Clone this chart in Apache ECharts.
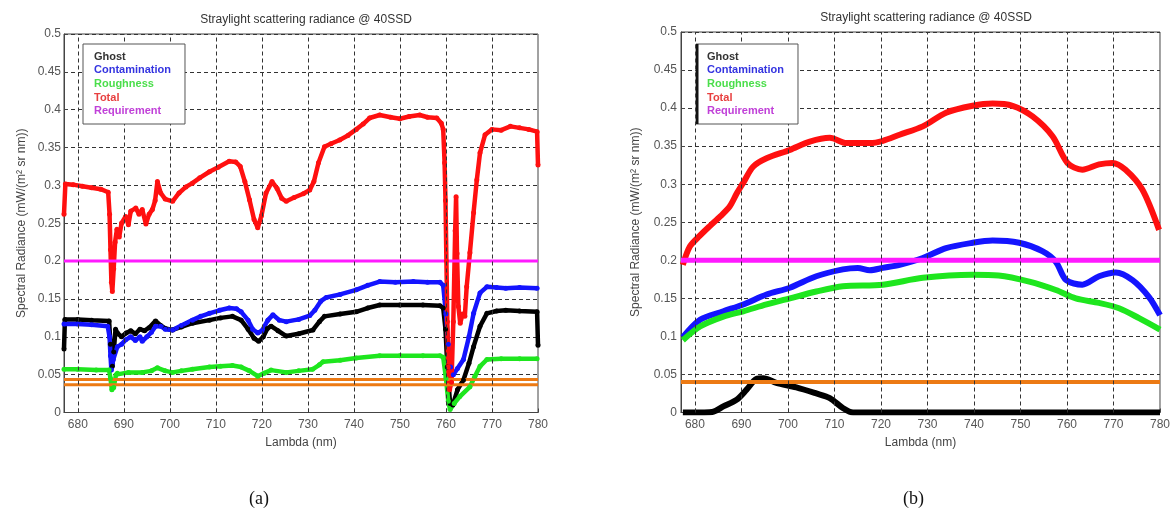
<!DOCTYPE html>
<html>
<head>
<meta charset="utf-8">
<script src="https://cdn.jsdelivr.net/npm/echarts@6/dist/echarts.min.js"></script>
<style>
  html, body { margin: 0; padding: 0; background: #fff; }
  #chart { width: 1173px; height: 518px; }
</style>
</head>
<body>
<div id="chart"></div>
<script>
  // wavelength ticks (nm) and series: [lambda, radiance]
  const lambdaTicks = [680, 690, 700, 710, 720, 730, 740, 750, 760, 770, 780];
  const legendNames = ['Ghost', 'Contamination', 'Roughness', 'Total', 'Requirement'];
  const requirement = 0.2;
  const limit = 0.04;

  // (a)
  const ghostA = [[677,0.084],[677.2,0.123],[680,0.123],[683,0.122],[686.8,0.121],[687.1,0.09],[687.5,0.061],[687.8,0.08],[688.2,0.11],[688.6,0.105],[689.5,0.1],[690.5,0.105],[691.5,0.108],[692.5,0.104],[693.5,0.11],[694.5,0.108],[695.5,0.112],[696.9,0.121],[698,0.115],[699,0.111],[700.6,0.109],[702.5,0.113],[704.9,0.118],[708.6,0.122],[711,0.125],[713.6,0.127],[715.5,0.122],[717,0.11],[718.3,0.098],[719.3,0.094],[720.3,0.1],[721.2,0.111],[722,0.114],[723.5,0.108],[725.3,0.101],[728,0.104],[731.1,0.109],[732.5,0.12],[733.6,0.127],[737,0.13],[740.5,0.133],[743,0.138],[745.6,0.142],[750,0.142],[755,0.142],[758.7,0.141],[759.4,0.138],[759.9,0.11],[760.3,0.06],[760.9,0.012],[761.5,0.01],[762.5,0.03],[763.8,0.043],[765,0.065],[766,0.087],[767.4,0.114],[768.9,0.131],[771,0.134],[773,0.135],[776,0.134],[779.8,0.133],[780,0.089]];
  const contamA = [[677,0.117],[680,0.117],[683,0.116],[686.5,0.114],[686.9,0.1],[687.1,0.075],[687.3,0.056],[687.7,0.07],[688.6,0.087],[689.5,0.09],[690.4,0.096],[691.5,0.1],[692.5,0.095],[693.5,0.1],[694,0.094],[695,0.1],[696,0.106],[696.9,0.114],[698,0.114],[699,0.11],[700.6,0.109],[702.5,0.115],[704.9,0.122],[706.7,0.127],[708.6,0.131],[710.8,0.135],[712.9,0.138],[714.5,0.137],[715.5,0.133],[717,0.122],[718,0.11],[719.1,0.105],[720,0.108],[721.3,0.122],[722.4,0.129],[723.8,0.122],[725.3,0.12],[728,0.123],[730.4,0.128],[731.5,0.135],[732.8,0.147],[734,0.152],[737,0.156],[740.5,0.162],[743,0.168],[745.6,0.173],[749,0.172],[752.9,0.173],[756,0.172],[758.7,0.172],[759.4,0.168],[760,0.13],[760.5,0.09],[761,0.06],[761.6,0.05],[762.5,0.058],[763.8,0.07],[765,0.1],[766,0.131],[767.4,0.158],[768.9,0.166],[771,0.165],[773,0.164],[776,0.165],[779.8,0.164]];
  const roughA = [[677,0.057],[680,0.057],[684,0.056],[686.8,0.056],[687.1,0.045],[687.4,0.03],[687.8,0.033],[688.3,0.05],[688.6,0.052],[691,0.053],[694,0.053],[696,0.055],[697.3,0.059],[699,0.055],[700.6,0.053],[702.5,0.055],[704.9,0.057],[708.6,0.06],[711,0.061],[713.6,0.062],[715.5,0.06],[717.3,0.055],[719.1,0.048],[720.5,0.052],[722,0.056],[725.3,0.053],[728,0.055],[731,0.057],[732.5,0.063],[733.3,0.067],[737,0.069],[740.5,0.072],[745.6,0.075],[750,0.075],[755,0.075],[758.7,0.075],[759.4,0.073],[760,0.045],[760.5,0.015],[760.9,0.004],[761.8,0.012],[763,0.021],[765.2,0.034],[766.3,0.048],[767.4,0.061],[768.9,0.07],[772,0.071],[776,0.071],[779.8,0.071]];
  const totalA = [[677,0.262],[677.3,0.302],[679,0.301],[681,0.299],[683,0.297],[685,0.295],[686.6,0.291],[686.9,0.262],[687.1,0.215],[687.3,0.172],[687.5,0.16],[687.8,0.19],[688.1,0.225],[688.5,0.242],[689,0.232],[689.5,0.25],[690.4,0.259],[691,0.248],[691.5,0.266],[692.6,0.27],[693.3,0.262],[694,0.268],[694.8,0.249],[695.5,0.262],[696.2,0.268],[696.8,0.28],[697.3,0.305],[698,0.29],[699,0.282],[700.6,0.279],[702,0.29],[703.5,0.298],[704.9,0.303],[706.5,0.31],[708.6,0.318],[710.5,0.324],[712.9,0.332],[714.3,0.331],[715.3,0.325],[716.3,0.305],[717.3,0.281],[718.3,0.255],[719.1,0.244],[719.9,0.26],[720.9,0.29],[722.2,0.305],[723.3,0.296],[724.3,0.283],[725.3,0.279],[727,0.284],[729,0.289],[730.4,0.294],[731.3,0.305],[732.3,0.33],[733.6,0.351],[735,0.355],[736.9,0.36],[738.7,0.366],[740.5,0.374],[742,0.381],[743.4,0.389],[745.6,0.393],[748,0.39],[750,0.388],[752,0.391],[754.3,0.393],[756,0.39],[758,0.389],[759,0.382],[759.4,0.374],[759.7,0.33],[759.9,0.28],[760.1,0.2],[760.3,0.12],[760.5,0.06],[760.8,0.03],[761.2,0.04],[761.6,0.12],[762,0.24],[762.2,0.285],[762.4,0.21],[762.7,0.14],[763.1,0.118],[763.6,0.13],[764.1,0.127],[764.5,0.166],[765.2,0.211],[766,0.264],[766.7,0.307],[767.4,0.343],[768.5,0.367],[770,0.374],[772,0.373],[774,0.378],[776,0.376],[778,0.374],[779.8,0.371],[780,0.327]];

  // (b)
  const ghostB = [[677.4,0],[682,0],[684,0.001],[686.1,0.008],[689,0.017],[691.1,0.03],[693.2,0.044],[694.7,0.045],[697.5,0.039],[701.8,0.033],[706.1,0.025],[709,0.019],[711.8,0.006],[714,0],[720,0],[740,0],[760,0],[780,0]];
  const contamB = [[677.4,0.099],[681.1,0.122],[686.1,0.133],[690.4,0.142],[695.4,0.155],[700.4,0.164],[706.1,0.179],[711.8,0.188],[715,0.19],[717.6,0.187],[720.4,0.19],[724,0.194],[729,0.203],[734,0.216],[739.7,0.223],[744,0.226],[749.7,0.223],[754.7,0.212],[757.6,0.198],[759.8,0.174],[763.3,0.168],[766.9,0.179],[770.5,0.184],[774.1,0.174],[777.6,0.152],[780,0.128]];
  const roughB = [[677.4,0.095],[681.1,0.113],[686.1,0.126],[690.4,0.133],[695.4,0.142],[700.4,0.15],[706.1,0.159],[711.8,0.166],[720.4,0.168],[729,0.177],[739.7,0.181],[745.3,0.18],[751.9,0.172],[757.6,0.161],[761.9,0.15],[766.9,0.144],[771.2,0.137],[775.5,0.124],[780,0.109]];
  const totalB = [[677.4,0.194],[678.9,0.218],[681,0.232],[683.2,0.245],[685.5,0.258],[687.5,0.271],[689,0.288],[690.4,0.302],[692.5,0.323],[695.4,0.334],[700.4,0.345],[704.7,0.356],[709,0.361],[712.6,0.354],[717.6,0.354],[720.4,0.357],[724,0.365],[729,0.376],[734,0.394],[739.7,0.403],[744,0.406],[748.3,0.403],[752.6,0.389],[756.9,0.363],[760.1,0.328],[763.3,0.319],[766.9,0.326],[769.8,0.328],[772.6,0.319],[776.2,0.293],[779.8,0.24]];

  const colors = {Ghost: '#000000', Contamination: '#1414ff', Roughness: '#1ee61e', Total: '#ff1010', Requirement: '#ff1aff'};
  const legendColors = {Ghost: '#333333', Contamination: '#3434e0', Roughness: '#4ade4a', Total: '#e84040', Requirement: '#c040d8'};
  const orange = '#ec7a14';
  const font = 'Arial, "Liberation Sans", sans-serif';

  function xAxisFor(i) {
    return {
      gridIndex: i, type: 'value', min: 677, max: 780,
      axisLine: {lineStyle: {color: '#444', width: 1}},
      axisTick: {inside: true, length: 4, customValues: lambdaTicks, lineStyle: {color: '#444'}},
      axisLabel: {customValues: lambdaTicks, color: '#555', fontSize: 12, margin: 6, fontFamily: font},
      splitLine: {show: false},
      name: 'Lambda (nm)', nameLocation: 'middle', nameGap: 24,
      nameTextStyle: {color: '#444', fontSize: 12, fontFamily: font},
    };
  }
  function yAxisFor(i, gap, margin) {
    return {
      gridIndex: i, type: 'value', min: 0, max: 0.5, interval: 0.05,
      axisLine: {show: true, lineStyle: {color: '#444', width: 1}},
      axisTick: {inside: true, length: 4, lineStyle: {color: '#444'}},
      axisLabel: {color: '#555', fontSize: 12, margin: margin, fontFamily: font},
      splitLine: {lineStyle: {color: '#333', width: 1, type: [4, 3]}},
      name: 'Spectral Radiance (mW/(m² sr nm))', nameLocation: 'middle', nameGap: gap,
      nameTextStyle: {color: '#444', fontSize: 12, fontFamily: font},
    };
  }
  function legendFor(left, top) {
    return {
      left: left, top: top, orient: 'vertical', selectedMode: false,
      backgroundColor: '#fff', borderColor: '#555', borderWidth: 1, borderRadius: 0,
      padding: [6, 14, 6, 6], itemGap: 0, itemWidth: 0, itemHeight: 8, icon: 'none',
      textStyle: {fontSize: 11, fontWeight: 'bold', lineHeight: 13.6, fontFamily: font},
      data: legendNames.map(n => ({name: n, icon: 'none', textStyle: {color: legendColors[n]}})),
      z: 10,
    };
  }
  function gridLines(i) {
    return {
      type: 'line', xAxisIndex: i, yAxisIndex: i, data: [], silent: true,
      markLine: {
        silent: true, symbol: ['none', 'none'], label: {show: false},
        lineStyle: {color: '#333', width: 1, type: [4, 3]},
        data: lambdaTicks.slice(0, -1).map(v => ({xAxis: v})),
      },
    };
  }
  function dataSeries(i, name, data, width, dots) {
    return {
      type: 'line', name: name, xAxisIndex: i, yAxisIndex: i, data: data,
      smooth: dots ? false : 0.3,
      showSymbol: dots, symbol: 'circle', symbolSize: 5,
      itemStyle: {color: colors[name]},
      lineStyle: {color: colors[name], width: width},
      emphasis: {disabled: true},
    };
  }
  function flat(i, name, value, color, width) {
    return {
      type: 'line', name: name, xAxisIndex: i, yAxisIndex: i,
      data: [[677, value], [780, value]], showSymbol: false,
      lineStyle: {color: color, width: width}, itemStyle: {color: color},
    };
  }

  const chart = echarts.init(document.getElementById('chart'));
  chart.setOption({
    backgroundColor: '#fff',
    animation: false,
    title: [
      {text: 'Straylight scattering radiance @ 40SSD', left: 301, top: 9, textAlign: 'center',
        textStyle: {fontSize: 12, fontWeight: 'normal', color: '#333', fontFamily: font}},
      {text: 'Straylight scattering radiance @ 40SSD', left: 921, top: 7, textAlign: 'center',
        textStyle: {fontSize: 12, fontWeight: 'normal', color: '#333', fontFamily: font}},
    ],
    legend: [legendFor(83, 44), legendFor(696, 44)],
    grid: [
      {left: 64, top: 34, width: 474, height: 378.5, show: true, borderColor: '#444', borderWidth: 1, backgroundColor: '#fff'},
      {left: 681, top: 32, width: 480.5, height: 380.5, show: true, borderColor: '#444', borderWidth: 1, backgroundColor: '#fff'},
    ],
    xAxis: [xAxisFor(0), xAxisFor(1)],
    yAxis: [yAxisFor(0, 36, 3), yAxisFor(1, 39, 4)],
    graphic: [
      {type: 'text', left: 249, top: 490, style: {text: '(a)', fontSize: 18, fontFamily: '"Liberation Serif", "Times New Roman", serif', fill: '#111'}},
      {type: 'text', left: 903, top: 490, style: {text: '(b)', fontSize: 18, fontFamily: '"Liberation Serif", "Times New Roman", serif', fill: '#111'}},
      {type: 'rect', left: 696, top: 44, z: 20, shape: {width: 2.5, height: 80}, style: {fill: '#111'}},
    ],
    series: [
      gridLines(0),
      dataSeries(0, 'Ghost', ghostA, 4.5, true),
      dataSeries(0, 'Contamination', contamA, 4.5, true),
      dataSeries(0, 'Roughness', roughA, 4.5, true),
      dataSeries(0, 'Total', totalA, 4.5, true),
      flat(0, 'Requirement', requirement, colors.Requirement, 3),
      flat(0, 'Limit upper', limit + 0.0035, orange, 3),
      flat(0, 'Limit lower', limit - 0.0035, orange, 3),
      gridLines(1),
      dataSeries(1, 'Ghost', ghostB, 6, false),
      dataSeries(1, 'Contamination', contamB, 6, false),
      dataSeries(1, 'Roughness', roughB, 6, false),
      dataSeries(1, 'Total', totalB, 6, false),
      flat(1, 'Requirement', requirement, colors.Requirement, 5),
      flat(1, 'Limit', limit, orange, 4),
    ],
  });
</script>
</body>
</html>
